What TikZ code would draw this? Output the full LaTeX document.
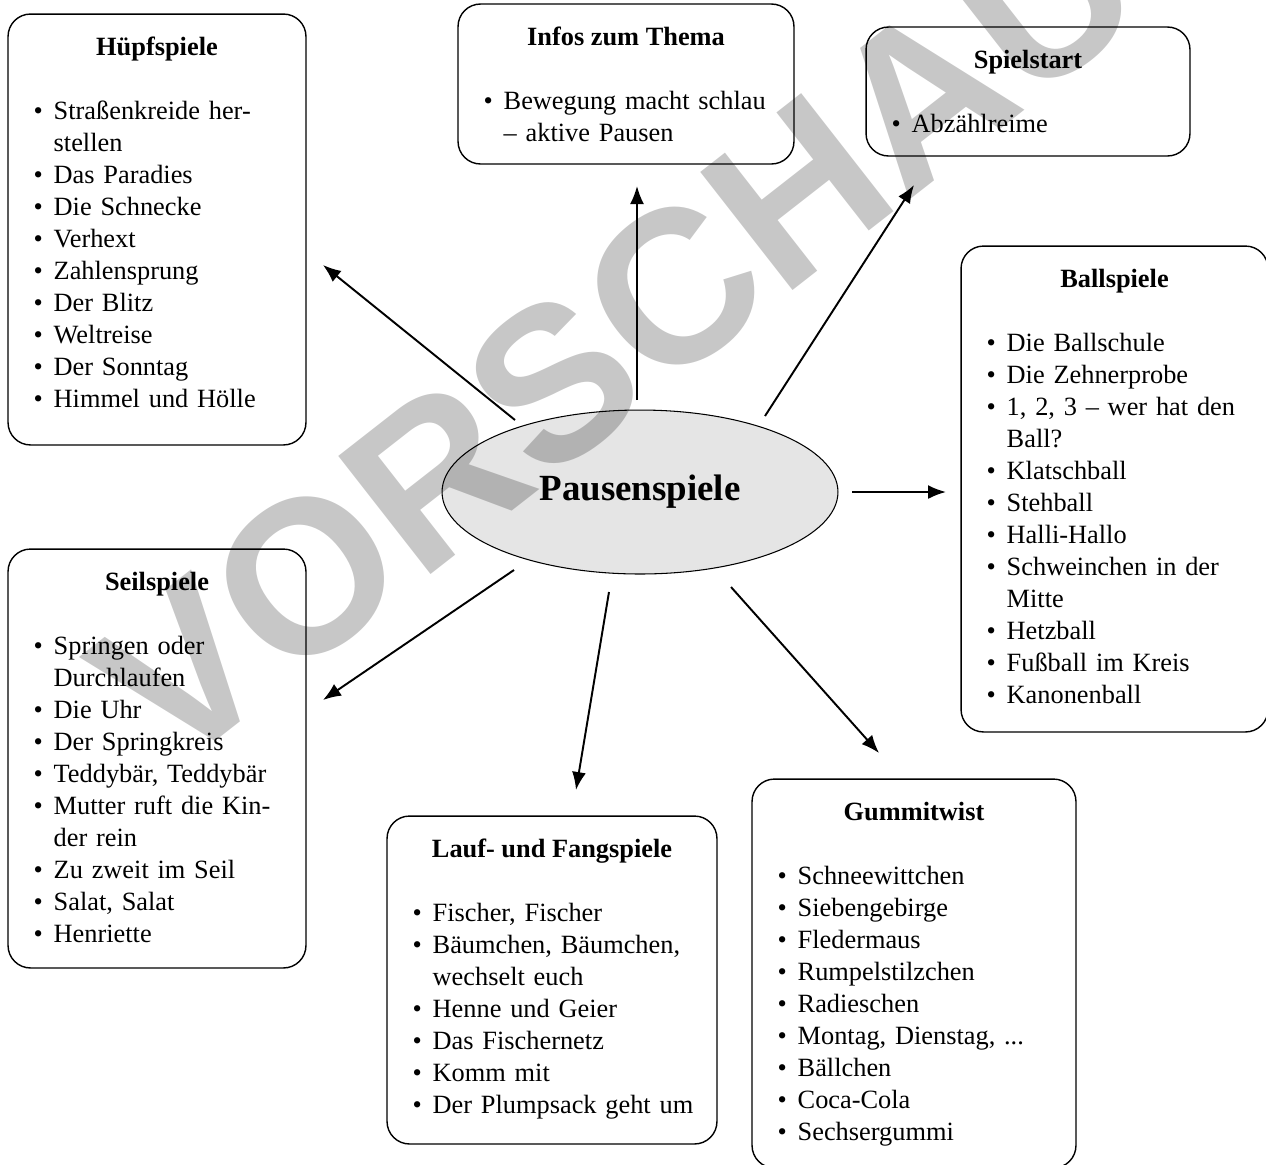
\documentclass[tikz,border=0pt]{standalone}
\usepackage{fontspec}
\setmainfont{Liberation Serif}
\newfontfamily\wmfont{Liberation Sans}
\usetikzlibrary{shapes.geometric, arrows.meta}

% Listenpunkt mit haengendem Einzug
\newcommand\pkt[1]{\hangindent=11.4pt\hangafter=1\noindent\makebox[11.4pt][l]{\textbullet}#1\par}

\tikzset{
	kasten/.style={draw=black, line width=0.8pt, rounded corners=0.45cm, inner sep=0pt},
	titel/.style={font=\fontsize{15}{18.2}\selectfont\bfseries, anchor=base, inner sep=0pt},
	liste/.style={font=\fontsize{15}{18.2}\selectfont, anchor=base west, text width=7cm, align=left, inner sep=0pt},
	pfeil/.style={line width=1.1pt, -{Latex[length=0.36cm,width=0.28cm]}}
}

\begin{document}
\begin{tikzpicture}[x=0.02cm, y=-0.02cm]
		\clip (0,0) rectangle (1266,1164);
		% Mitte
		\node[ellipse, draw=black, line width=0.6pt, fill=gray!20, minimum width=7.92cm, minimum height=3.28cm,
			font=\fontsize{21}{24}\selectfont\bfseries] (pause) at (640,492) {Pausenspiele};
		% Kaesten
		\node[kasten, minimum width=5.96cm, minimum height=8.62cm] (huepf) at (157,229.5) {};
		\node[kasten, minimum width=6.72cm, minimum height=3.2cm] (infos) at (626,84) {};
		\node[kasten, minimum width=6.48cm, minimum height=2.58cm] (start) at (1028,91.5) {};
		\node[kasten, minimum width=6.14cm, minimum height=9.72cm] (ball) at (1114.5,489) {};
		\node[kasten, minimum width=5.96cm, minimum height=8.38cm] (seil) at (157,758.5) {};
		\node[kasten, minimum width=6.6cm, minimum height=6.56cm] (lauf) at (552,980) {};
		\node[kasten, minimum width=6.48cm, minimum height=7.78cm] (gummi) at (914,973.5) {};
		% Ueberschriften
		\node[titel] (huepf-t) at ([yshift=-0.84cm]huepf.north) {Hüpfspiele};
		\node[titel] (infos-t) at ([yshift=-0.84cm]infos.north) {Infos zum Thema};
		\node[titel] (start-t) at ([yshift=-0.84cm]start.north) {Spielstart};
		\node[titel] (ball-t) at ([yshift=-0.84cm]ball.north) {Ballspiele};
		\node[titel] (seil-t) at ([yshift=-0.84cm]seil.north) {Seilspiele};
		\node[titel] (lauf-t) at ([yshift=-0.84cm]lauf.north) {Lauf- und Fangspiele};
		\node[titel] (gummi-t) at ([yshift=-0.84cm]gummi.north) {Gummitwist};
		% Listen
		\node[liste] (huepf-l) at ([xshift=0.52cm, yshift=-2.12cm]huepf.north west) {%
			\pkt{Straßenkreide her-\newline stellen}\pkt{Das Paradies}\pkt{Die Schnecke}\pkt{Verhext}%
			\pkt{Zahlensprung}\pkt{Der Blitz}\pkt{Weltreise}\pkt{Der Sonntag}\pkt{Himmel und Hölle}};
		\node[liste] (infos-l) at ([xshift=0.52cm, yshift=-2.12cm]infos.north west) {%
			\pkt{Bewegung macht schlau\newline – aktive Pausen}};
		\node[liste] (start-l) at ([xshift=0.52cm, yshift=-2.12cm]start.north west) {%
			\pkt{Abzählreime}};
		\node[liste] (ball-l) at ([xshift=0.52cm, yshift=-2.12cm]ball.north west) {%
			\pkt{Die Ballschule}\pkt{Die Zehnerprobe}\pkt{1, 2, 3 – wer hat den\newline Ball?}%
			\pkt{Klatschball}\pkt{Stehball}\pkt{Halli-Hallo}\pkt{Schweinchen in der\newline Mitte}%
			\pkt{Hetzball}\pkt{Fußball im Kreis}\pkt{Kanonenball}};
		\node[liste] (seil-l) at ([xshift=0.52cm, yshift=-2.12cm]seil.north west) {%
			\pkt{Springen oder\newline Durchlaufen}\pkt{Die Uhr}\pkt{Der Springkreis}%
			\pkt{Teddybär, Teddybär}\pkt{Mutter ruft die Kin-\newline der rein}\pkt{Zu zweit im Seil}%
			\pkt{Salat, Salat}\pkt{Henriette}};
		\node[liste] (lauf-l) at ([xshift=0.52cm, yshift=-2.12cm]lauf.north west) {%
			\pkt{Fischer, Fischer}\pkt{Bäumchen, Bäumchen,\newline wechselt euch}\pkt{Henne und Geier}%
			\pkt{Das Fischernetz}\pkt{Komm mit}\pkt{Der Plumpsack geht um}};
		\node[liste] (gummi-l) at ([xshift=0.52cm, yshift=-2.12cm]gummi.north west) {%
			\pkt{Schneewittchen}\pkt{Siebengebirge}\pkt{Fledermaus}\pkt{Rumpelstilzchen}%
			\pkt{Radieschen}\pkt{Montag, Dienstag, ...}\pkt{Bällchen}\pkt{Coca-Cola}\pkt{Sechsergummi}};
		% Pfeile
		\coordinate (p1) at (515,420);
		\coordinate (e1) at (323,265);
		\coordinate (p2) at (637,400);
		\coordinate (e2) at (637,186);
		\coordinate (p3) at (765,416);
		\coordinate (e3) at (914,185);
		\coordinate (p4) at (852,492);
		\coordinate (e4) at (946,492);
		\coordinate (p5) at (514,570);
		\coordinate (e5) at (323,700);
		\coordinate (p6) at (609,592);
		\coordinate (e6) at (576,790);
		\coordinate (p7) at (731,587);
		\coordinate (e7) at (879,753);
		\draw[pfeil] (p1) -- (e1);
		\draw[pfeil] (p2) -- (e2);
		\draw[pfeil] (p3) -- (e3);
		\draw[pfeil] (p4) -- (e4);
		\draw[pfeil] (p5) -- (e5);
		\draw[pfeil] (p6) -- (e6);
		\draw[pfeil] (p7) -- (e7);
		% Wasserzeichen
		\node[rotate=38, anchor=center, inner sep=0pt, text=black, text opacity=0.22,
			font=\wmfont\bfseries\fontsize{124}{124}\selectfont] (wm) at (616,334) {VORSCHAU};
	\end{tikzpicture}
\end{document}
